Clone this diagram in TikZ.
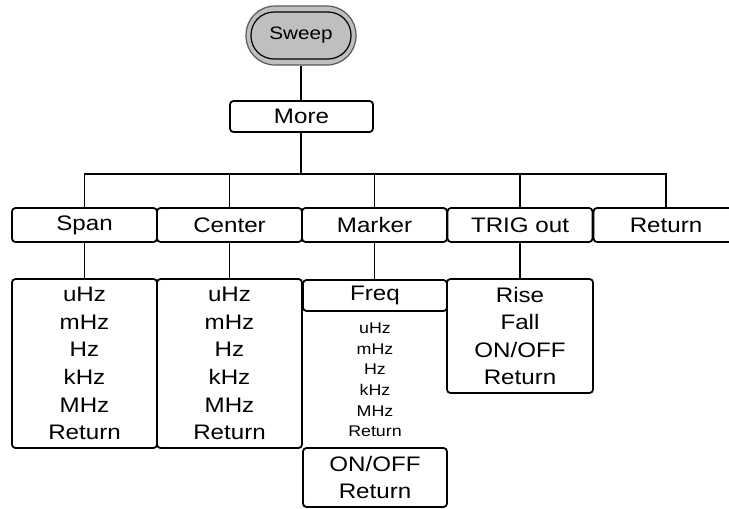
\documentclass[tikz,border=0pt]{standalone}
\usepackage{fontspec}
\setmainfont[FakeStretch=1.15]{Liberation Sans}
\usetikzlibrary{positioning}

\begin{document}
\begin{tikzpicture}[x=1pt,y=-1pt,line width=1.8pt,
  menubox/.style={draw,rounded corners=3.5pt,inner sep=0pt,outer sep=0pt,
    minimum width=145pt,minimum height=34pt,font=\fontsize{21}{27.6}\selectfont},
  listbox/.style={menubox,align=center},
  smalllist/.style={align=center,inner sep=0pt,font=\fontsize{15.5}{20.6}\selectfont},
  sweepouter/.style={draw=black!65,fill=black!25,line width=1.2pt,rounded corners=29pt,
    minimum width=110pt,minimum height=59pt,inner sep=0pt},
  sweepbox/.style={draw,fill=black!25,line width=1.2pt,rounded corners=23pt,
    minimum width=100pt,minimum height=47pt,inner sep=0pt,outer sep=0pt,
    font=\fontsize{18}{20}\selectfont}]
  \useasboundingbox (0,0) rectangle (729,509);
  \clip (0,0) rectangle (729,509);
  % root key
  \node[sweepouter] (sweepo) at (301,35.5) {};
  \node[sweepbox] (sweep) at (sweepo) {Sweep};
  \node[menubox,minimum width=143pt,minimum height=31pt] (more) at (301.5,116.5) {More};
  \draw (sweepo.south) -- (sweepo.south |- more.north);
  % first level
  \node[menubox] (span) at (84.5,225) {Span};
  \node[menubox] (center) at (229.5,225) {Center};
  \node[menubox] (marker) at (374.5,225) {Marker};
  \node[menubox] (trig) at (520,225) {TRIG out};
  \node[menubox] (ret) at (666,225) {Return};
  \coordinate (bus) at (301,174);
  \draw (bus |- more.south) -- (bus);
  \draw (span.north) |- (bus) -| (ret.north);
  \draw (center.north) -- (center.north |- bus);
  \draw (marker.north) -- (marker.north |- bus);
  \draw (trig.north) -- (trig.north |- bus);
  % second level
  \node[listbox,minimum height=169pt] (spanlist) at (84.5,363.5)
    {uHz\\mHz\\Hz\\kHz\\MHz\\Return};
  \node[listbox,minimum height=169pt] (centerlist) at (229.5,363.5)
    {uHz\\mHz\\Hz\\kHz\\MHz\\Return};
  \node[menubox,minimum width=144pt,minimum height=31pt] (freq) at (375,295.5) {Freq};
  \node[smalllist] (freqlist) at (375,380) {uHz\\mHz\\Hz\\kHz\\MHz\\Return};
  \node[listbox,minimum width=144pt,minimum height=59pt] (onoff) at (375,477.5)
    {ON/OFF\\Return};
  \node[listbox,minimum width=146pt,minimum height=114pt] (triglist) at (520,336)
    {Rise\\Fall\\ON/OFF\\Return};
  \draw (span) -- (spanlist);
  \draw (center) -- (centerlist);
  \draw (marker.south) -- (marker.south |- freq.north);
  \draw (trig) -- (triglist);
\end{tikzpicture}
\end{document}
